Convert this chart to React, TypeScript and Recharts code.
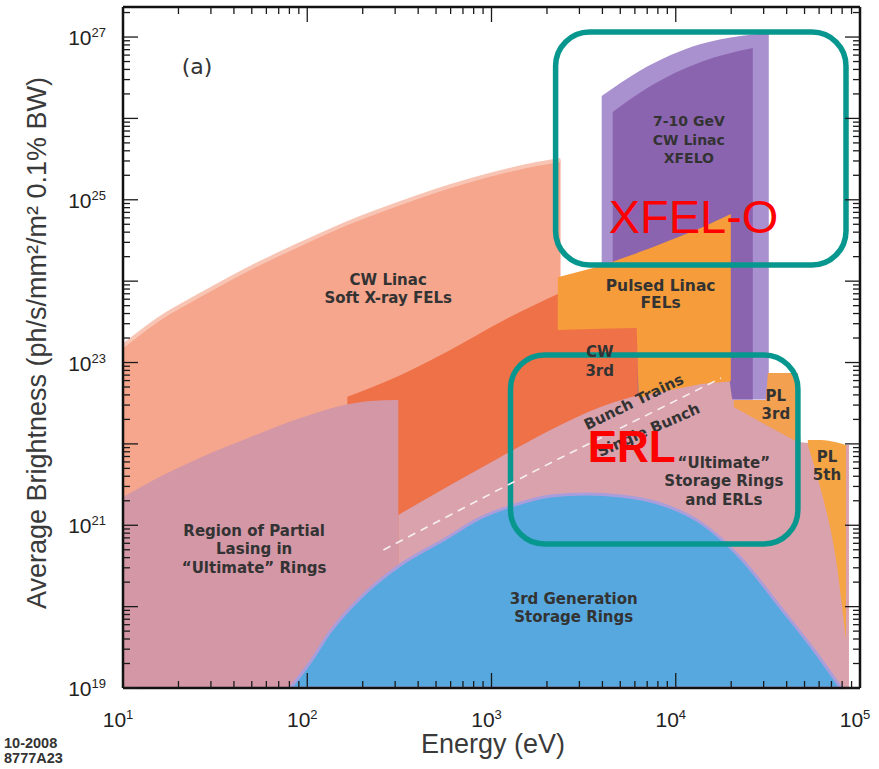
import React from 'react';
import { ComposedChart, Area, Line, XAxis, YAxis, ReferenceArea, ReferenceDot } from 'recharts';

// ---------- values (energy in eV, brightness) ----------
const FLOOR = 1e19;

// CW linac soft X-ray FELs
const cwSoftEnergy = [10, 15.9, 26.2, 49, 91.6, 171, 320, 598, 1119, 1630, 2370];
const cwSoftTop = [1.6e23, 3.52e23, 6.74e23, 1.45e24, 2.85e24, 5.33e24, 9.09e24, 1.47e25, 2.19e25, 2.66e25, 3.08e25];

// 7-10 GeV CW linac XFELO (outer glow + core)
const xfeloOuterEnergy = [3963, 6450, 13700, 22500, 31980];
const xfeloOuterTop = [1.88e26, 3.9e26, 8.2e26, 1.03e27, 1.12e27];
const xfeloOuterBottom = [3.5e22, 3.5e22, 3.5e22, 3.5e22, 3.5e22];
const xfeloCoreEnergy = [4550, 7300, 13700, 26200];
const xfeloCoreTop = [1.2e26, 2.5e26, 4.93e26, 7.33e26];
const xfeloCoreBottom = [3.5e22, 3.5e22, 3.5e22, 3.5e22];

// CW 3rd harmonic
const cw3Energy = [165, 320, 598, 1120, 2290, 3910, 6220];
const cw3Top = [3.8e22, 7.0e22, 1.43e23, 3.15e23, 6.95e23, 1.19e24, 1.72e24];

// "Ultimate" storage rings and ERLs
const ultEnergy = [312, 598, 1120, 2090, 3910, 7310, 13700, 19400, 20400, 46000, 47800, 87100];
const ultTop = [1.34e21, 3.12e21, 6.9e21, 1.48e22, 2.84e22, 4.34e22, 5.76e22, 6.27e22, 3.46e22, 3.0e22, 1.05e22, 9.7e21];

// Region of partial lasing in "ultimate" rings
const partialEnergy = [10, 14, 26, 49, 92, 151, 220, 312];
const partialTop = [2.22e21, 3.4e21, 6.7e21, 1.21e22, 2.08e22, 2.92e22, 3.36e22, 3.46e22];

// PL 3rd
const pl3Energy = [20660, 30830, 31620, 46030];
const pl3Top = [3.46e22, 3.46e22, 7.43e22, 7.43e22];
const pl3Bottom = [2.84e22, 1.71e22, 1.66e22, 1.05e22];

// Pulsed linac FELs
const pulsedEnergy = [2290, 3910, 6140, 6290, 7310, 13700, 19900];
const pulsedTop = [1.12e24, 1.53e24, 2.21e24, 2.27e24, 2.55e24, 4.5e24, 6.68e24];
const pulsedBottom = [2.51e23, 2.6e23, 2.66e23, 3.6e22, 4.1e22, 5.45e22, 5.9e22];

// PL 5th
const pl5Energy = [52120, 61380, 74130, 83950];
const pl5Top = [1.12e22, 1.12e22, 1.05e22, 9.7e21];
const pl5Bottom = [9.7e21, 2.71e21, 3.74e20, 3.89e19];

// 3rd generation storage rings
const gen3Energy = [81, 104, 133, 194, 320, 548, 871, 1330, 2090, 3280, 5020, 7980, 13700, 22500, 37200, 56200, 78900];
const gen3Top = [1e19, 2.09e19, 4.88e19, 1.28e20, 3.25e20, 6.59e20, 1.23e21, 1.77e21, 2.29e21, 2.42e21, 2.29e21, 1.88e21, 1.07e21, 3.96e20, 9.61e19, 2.93e19, 1e19];

// bunch-trains / single-bunch divider
const bunchEnergy = [259, 598, 2090, 7310, 17600];
const bunchValue = [4.96e20, 1.34e21, 5.82e21, 2.39e22, 6.45e22];

// axis ticks
const xMajor = [10, 100, 1000, 10000, 100000];
const xMinor = [20, 30, 40, 50, 60, 70, 80, 90, 200, 300, 400, 500, 600, 700, 800, 900,
  2000, 3000, 4000, 5000, 6000, 7000, 8000, 9000, 20000, 30000, 40000, 50000, 60000, 70000, 80000, 90000];
const yMajor = [1e19, 1e20, 1e21, 1e22, 1e23, 1e24, 1e25, 1e26, 1e27];
const yMinorMult = [2, 3, 4, 5, 6, 7, 8, 9];
const xTicks = [...xMajor, ...xMinor].sort((a, b) => a - b);
const yTicks = [...yMajor, ...yMajor.flatMap((m) => yMinorMult.map((k) => k * m)).filter((v) => v < 2.34e27)].sort((a, b) => a - b);

const X_DOMAIN = [10, 100000];
const Y_DOMAIN = [1e19, 2.34e27];

// annotation anchors [energy, brightness]
const labelA = [25.2, 3.51e26];
const labelCwSoft = [275, 8.95e23];
const labelPartial = [51.5, 7.38e20];
const labelXfelo = [11780, 8.05e25];
const labelPulsed = [8280, 7.57e23];
const labelCw3 = [3865, 1.17e23];
const labelTrains = [5918, 3.27e22];
const labelSingle = [7130, 1.48e22];
const labelUltimate = [18240, 5.06e21];
const labelPl3 = [34940, 3.36e22];
const labelPl5 = [66220, 5.98e21];
const labelGen3 = [2793, 1.08e20];
const labelXfelO = [4325, 3.9e24];
const labelErl = [3327, 5.98e21];
const boxXfelo = { x: [2228, 83950], y: [1.58e24, 1.15e27] };
const boxErl = { x: [1268, 46030], y: [5.89e20, 1.24e23] };

// ---------- helpers ----------
const rows = (xs: number[], lo: number[] | number, hi: number[]) =>
  xs.map((e, i) => ({ e, r: [Array.isArray(lo) ? lo[i] : lo, hi[i]] }));

const AXIS_FONT = '"Liberation Sans", Arial, Helvetica, sans-serif';
const LABEL_FONT = '"DejaVu Sans", "Liberation Sans", sans-serif';
const TICK_COLOR = '#1a1a1a';

const isDecade = (v: number) => Math.abs(Math.log10(v) - Math.round(Math.log10(v))) < 1e-6;
const MAJOR = 15;
const MINOR = 7;

const BottomTick = (p: any) => {
  const { x, y, payload } = p;
  const v = payload.value;
  const major = isDecade(v);
  return (
    <g>
      <line x1={x} y1={y} x2={x} y2={y - (major ? MAJOR : MINOR)} stroke={TICK_COLOR} strokeWidth={1.3} />
      {major && (
        <text x={x - 5} y={y + 39} textAnchor="middle" fontSize={21} fill="#222" fontFamily={AXIS_FONT}>
          10<tspan dy={-8} fontSize={13}>{Math.round(Math.log10(v))}</tspan>
        </text>
      )}
    </g>
  );
};

const TopTick = (p: any) => {
  const { x, y, payload } = p;
  const major = isDecade(payload.value);
  return <line x1={x} y1={y} x2={x} y2={y + (major ? MAJOR : MINOR)} stroke={TICK_COLOR} strokeWidth={1.3} />;
};

const LeftTick = (p: any) => {
  const { x, y, payload } = p;
  const v = payload.value;
  const major = isDecade(v);
  const exp = Math.round(Math.log10(v));
  return (
    <g>
      <line x1={x} y1={y} x2={x + (major ? MAJOR : MINOR)} y2={y} stroke={TICK_COLOR} strokeWidth={1.3} />
      {major && exp % 2 === 1 && (
        <text x={x - 17} y={y + 8} textAnchor="end" fontSize={21} fill="#222" fontFamily={AXIS_FONT}>
          10<tspan dy={-8} fontSize={13}>{exp}</tspan>
        </text>
      )}
    </g>
  );
};

const RightTick = (p: any) => {
  const { x, y, payload } = p;
  const major = isDecade(payload.value);
  return <line x1={x} y1={y} x2={x - (major ? MAJOR : MINOR)} y2={y} stroke={TICK_COLOR} strokeWidth={1.3} />;
};

type LabelOpts = {
  lines: string[];
  size?: number;
  lh?: number;
  rotate?: number;
  anchor?: 'start' | 'middle' | 'end';
  weight?: string | number;
  color?: string;
  family?: string;
  baseline?: string;
};

const renderLabel = (o: LabelOpts) => (p: any) => {
  const { cx, cy } = p;
  const anchor = o.anchor || 'middle';
  return (
    <text
      x={cx}
      y={cy}
      textAnchor={anchor}
      fontSize={o.size || 15}
      fontWeight={o.weight ?? 'bold'}
      fill={o.color || '#333'}
      fontFamily={o.family || LABEL_FONT}
      dominantBaseline={o.baseline as any}
      transform={o.rotate ? `rotate(${o.rotate} ${cx} ${cy})` : undefined}
    >
      {o.lines.map((l, i) => (
        <tspan key={i} x={cx} dy={i === 0 ? 0 : o.lh || 18}>
          {l}
        </tspan>
      ))}
    </text>
  );
};

const Annot = (pos: number[], o: LabelOpts, key: string) => (
  <ReferenceDot
    key={key}
    xAxisId="x"
    yAxisId="y"
    x={pos[0]}
    y={pos[1]}
    r={0}
    ifOverflow="visible"
    shape={renderLabel(o)}
  />
);

const TEAL = '#08978f';
const roundBox = (p: any) => (
  <rect x={p.x} y={p.y} width={p.width} height={p.height} rx={34} ry={34} fill="none" stroke={TEAL} strokeWidth={5.5} />
);

const area = (key: string, data: any[], fill: string, extra: any = {}) => (
  <Area
    key={key}
    xAxisId="x"
    yAxisId="y"
    data={data}
    dataKey="r"
    type="monotone"
    fill={fill}
    fillOpacity={1}
    stroke="none"
    isAnimationActive={false}
    dot={false}
    activeDot={false}
    {...extra}
  />
);

export default function App() {
  return (
    <div style={{ position: 'absolute', left: 0, top: 0, width: 879, height: 769, background: '#fff' }}>
      <ComposedChart width={879} height={769} margin={{ top: 7, right: 19, bottom: 21, left: 43 }}>
        {area('cwsoft', rows(cwSoftEnergy, FLOOR, cwSoftTop), '#f5a68d', { stroke: '#f8c4b3', strokeWidth: 4 })}
        {area('xfeloOuter', rows(xfeloOuterEnergy, xfeloOuterBottom, xfeloOuterTop), '#a990cf')}
        {area('xfeloCore', rows(xfeloCoreEnergy, xfeloCoreBottom, xfeloCoreTop), '#8b64b0')}
        {area('cw3', rows(cw3Energy, FLOOR, cw3Top), '#ef7148')}
        {area('ult', rows(ultEnergy, FLOOR, ultTop), '#daa2ad')}
        {area('partial', rows(partialEnergy, FLOOR, partialTop), '#d497a6')}
        {area('pl3', rows(pl3Energy, pl3Bottom, pl3Top), '#f3a050', { type: 'linear' })}
        {area('pulsed', rows(pulsedEnergy, pulsedBottom, pulsedTop), '#f69c3a', { type: 'linear' })}
        {area('pl5', rows(pl5Energy, pl5Bottom, pl5Top), '#f6a545')}
        {area('gen3', rows(gen3Energy, FLOOR, gen3Top), '#56a8df', { stroke: '#a99edb', strokeWidth: 3 })}
        <Line
          xAxisId="x"
          yAxisId="y"
          data={bunchEnergy.map((e, i) => ({ e, b: bunchValue[i] }))}
          dataKey="b"
          type="monotone"
          stroke="#f7eef0"
          strokeWidth={1.6}
          strokeDasharray="8 6"
          dot={false}
          activeDot={false}
          isAnimationActive={false}
        />

        <XAxis
          xAxisId="x"
          dataKey="e"
          type="number"
          scale="log"
          domain={X_DOMAIN}
          allowDataOverflow
          ticks={xTicks}
          interval={0}
          height={60}
          tickSize={0}
          tickMargin={0}
          tickLine={false}
          axisLine={{ stroke: '#111', strokeWidth: 2.5 }}
          tick={BottomTick}
        />
        <XAxis
          xAxisId="xt"
          dataKey="e"
          orientation="top"
          mirror
          type="number"
          scale="log"
          domain={X_DOMAIN}
          allowDataOverflow
          ticks={xTicks}
          interval={0}
          tickSize={0}
          tickMargin={0}
          tickLine={false}
          axisLine={{ stroke: '#111', strokeWidth: 2.5 }}
          tick={TopTick}
        />
        <YAxis
          yAxisId="y"
          type="number"
          scale="log"
          domain={Y_DOMAIN}
          allowDataOverflow
          ticks={yTicks}
          interval={0}
          width={80}
          tickSize={0}
          tickMargin={0}
          tickLine={false}
          axisLine={{ stroke: '#111', strokeWidth: 2.5 }}
          tick={LeftTick}
        />
        <YAxis
          yAxisId="yr"
          orientation="right"
          mirror
          type="number"
          scale="log"
          domain={Y_DOMAIN}
          allowDataOverflow
          ticks={yTicks}
          interval={0}
          tickSize={0}
          tickMargin={0}
          tickLine={false}
          axisLine={{ stroke: '#111', strokeWidth: 2.5 }}
          tick={RightTick}
        />

        {Annot(labelA, { lines: ['(a)'], size: 22, weight: 'normal' }, 'a')}
        {Annot(labelCwSoft, { lines: ['CW Linac', 'Soft X-ray FELs'] }, 'cwsoft')}
        {Annot(labelPartial, { lines: ['Region of Partial', 'Lasing in', '\u201CUltimate\u201D Rings'], lh: 18.5 }, 'partial')}
        {Annot(labelXfelo, { lines: ['7-10 GeV', 'CW Linac', 'XFELO'], size: 14, lh: 18.5 }, 'xfelo')}
        {Annot(labelPulsed, { lines: ['Pulsed Linac', 'FELs'], size: 15.5, lh: 17.5 }, 'pulsed')}
        {Annot(labelCw3, { lines: ['CW', '3rd'], size: 15, lh: 19 }, 'cw3')}
        {Annot(labelTrains, { lines: ['Bunch Trains'], size: 15, rotate: -26, baseline: 'middle' }, 'trains')}
        {Annot(labelSingle, { lines: ['Single Bunch'], size: 15, rotate: -24, baseline: 'middle' }, 'single')}
        {Annot(labelUltimate, { lines: ['\u201CUltimate\u201D', 'Storage Rings', 'and ERLs'], size: 15, lh: 18.5 }, 'ult')}
        {Annot(labelPl3, { lines: ['PL', '3rd'], size: 15, lh: 18 }, 'pl3')}
        {Annot(labelPl5, { lines: ['PL', '5th'], size: 15, lh: 18 }, 'pl5')}
        {Annot(labelGen3, { lines: ['3rd Generation', 'Storage Rings'], size: 15, lh: 18 }, 'gen3')}

        <ReferenceArea
          xAxisId="x"
          yAxisId="y"
          x1={boxXfelo.x[0]}
          x2={boxXfelo.x[1]}
          y1={boxXfelo.y[0]}
          y2={boxXfelo.y[1]}
          ifOverflow="visible"
          shape={roundBox}
        />
        <ReferenceArea
          xAxisId="x"
          yAxisId="y"
          x1={boxErl.x[0]}
          x2={boxErl.x[1]}
          y1={boxErl.y[0]}
          y2={boxErl.y[1]}
          ifOverflow="visible"
          shape={roundBox}
        />
        {Annot(labelXfelO, { lines: ['XFEL-O'], size: 47, weight: 'normal', anchor: 'start', color: '#ff0000', family: AXIS_FONT }, 'xfelO')}
        {Annot(labelErl, { lines: ['ERL'], size: 44, weight: 'bold', anchor: 'start', color: '#ff0000', family: AXIS_FONT }, 'erl')}

        <text x={493} y={753} textAnchor="middle" fontSize={27} fill="#3a3a3a" fontFamily={AXIS_FONT}>
          Energy  (eV)
        </text>
        <text
          x={46}
          y={343}
          textAnchor="middle"
          fontSize={27}
          fill="#3a3a3a"
          fontFamily={AXIS_FONT}
          transform="rotate(-90 46 343)"
        >
          Average Brightness  (ph/s/mm²/m² 0.1% BW)
        </text>
        <text x={4} y={748} fontSize={14.5} fontWeight="bold" fill="#333" fontFamily={AXIS_FONT}>
          10-2008
        </text>
        <text x={4} y={763} fontSize={14.5} fontWeight="bold" fill="#333" fontFamily={AXIS_FONT}>
          8777A23
        </text>
      </ComposedChart>
    </div>
  );
}
